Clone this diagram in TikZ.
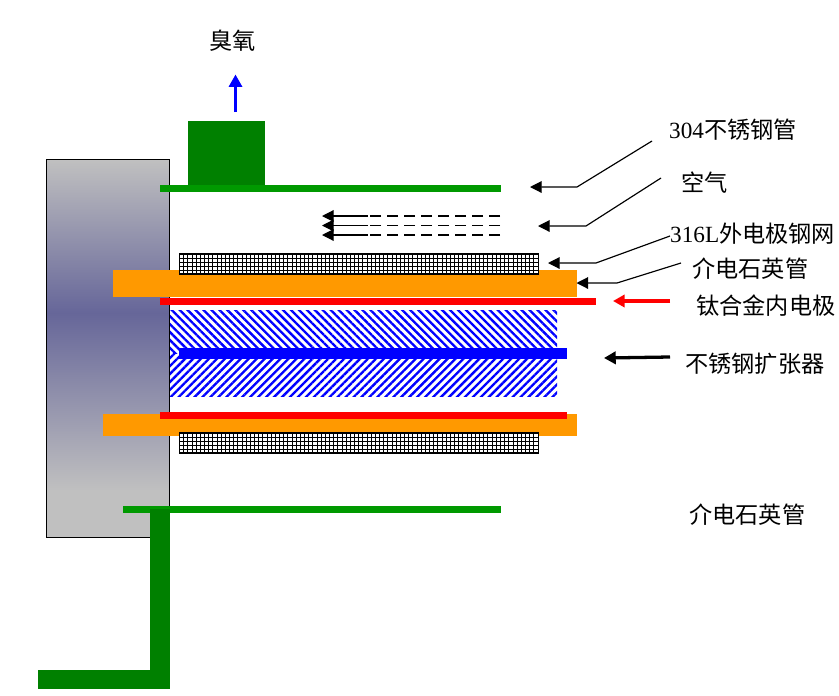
\documentclass[tikz,border=0pt]{standalone}
\usepackage{fontspec}
\setmainfont{Liberation Serif}
\newfontfamily\cjk{Noto Sans CJK SC}
\usetikzlibrary{arrows.meta,patterns.meta}
\definecolor{pipegreen}{HTML}{009900}
\definecolor{portgreen}{HTML}{008000}
\definecolor{quartz}{HTML}{FF9900}
\definecolor{blockgrey}{HTML}{C0C0C0}
\definecolor{blockdark}{HTML}{666699}
\tikzset{
    lbl/.style={anchor=west,inner sep=0pt,font=\fontsize{19.8}{20}\selectfont},
    leader/.style={black,line width=1pt,-{Triangle[length=10pt,width=10pt]}},
    flow/.style={line width=2.8pt,-{Triangle[length=10pt,width=10.5pt]}},
    airline/.style={black,line width=1pt},
}
\begin{document}
\begin{tikzpicture}[x=0.03cm,y=-0.03cm]
    \useasboundingbox (0,0) rectangle (839,695);
    % End block
    \fill[top color=blockgrey,bottom color=blockdark] (46.5,159.5) rectangle (169.5,313);
    \fill[top color=blockdark,bottom color=blockgrey] (46.5,313) rectangle (169.5,490);
    \fill[blockgrey] (46.5,490) rectangle (169.5,537.5);
    \draw[black,line width=0.9pt] (46.5,159.5) rectangle (169.5,537.5);
    % Ozone outlet and outer pipe
    \fill[portgreen] (188,121) rectangle (265,187);
    \fill[pipegreen] (159.5,184.5) rectangle (500.5,191.5);
    \fill[pipegreen] (122.5,506) rectangle (500.5,513);
    % Air inlet
    \fill[portgreen] (150,509) rectangle (170,689);
    \fill[portgreen] (37.5,670) rectangle (170,689);
    % Hatched core
    \fill[white] (170,310) rectangle (557,396);
    \fill[pattern={Lines[angle=-45,distance=4.8pt,line width=2pt]},pattern color=blue] (170,310) rectangle (557,353);
    \fill[pattern={Lines[angle=45,distance=4.8pt,line width=2pt]},pattern color=blue] (170,353) rectangle (557,396);
    \fill[blue] (179,348) rectangle (567,359);
    % Quartz tubes
    \fill[quartz] (113,270) rectangle (576.5,297);
    \fill[quartz] (103,414) rectangle (576.5,436);
    % Inner electrodes
    \fill[red] (160,297.5) rectangle (595.5,305);
    \fill[red] (160,411.5) rectangle (566.5,418.5);
    % Electrode mesh
    \foreach \meshy in {254,433} {
        \fill[white] (179,\meshy) rectangle (538.5,\meshy+20);
        \begin{scope}[shift={(179.5,\meshy)}]
            \draw[black,line width=0.6pt,xstep=0.125cm,ystep=0.125cm] (0,0) grid (359,20);
            \draw[black,line width=1.1pt] (0,0) rectangle (359,20);
        \end{scope}
    }
    % Air stream
    \foreach \airy/\airname in {216/aira,225.5/airb,235/airc} {
        \coordinate (\airname tail) at (368,\airy);
        \coordinate (\airname end) at (500,\airy);
        \coordinate (\airname tip) at (322,\airy);
        \draw[airline,dash pattern=on 9.5pt off 5pt] (\airname end) -- (\airname tail);
        \draw[leader] (\airname tail) -- (\airname tip);
    }
    % Labels
    \node[lbl] (ozone) at (209,41) {\cjk 臭氧};
    \node[lbl] (steelpipe) at (669,130) {304\cjk 不锈钢管};
    \node[lbl] (air) at (681,183) {\cjk 空气};
    \node[lbl] (mesh) at (670,234) {316L\cjk 外电极钢网};
    \node[lbl] (quartzup) at (692,269) {\cjk 介电石英管};
    \node[lbl] (inner) at (696,306) {\cjk 钛合金内电极};
    \node[lbl] (expander) at (685,364) {\cjk 不锈钢扩张器};
    \node[lbl] (quartzlow) at (689,515) {\cjk 介电石英管};
    % Leaders
    \coordinate (pipefree) at (652,141);
    \coordinate (pipeknee) at (577,187);
    \coordinate (pipetip) at (530,187);
    \coordinate (airfree) at (661,178);
    \coordinate (airknee) at (586,226);
    \coordinate (airtip) at (538,226);
    \coordinate (meshfree) at (670,236);
    \coordinate (meshknee) at (596,263);
    \coordinate (meshtip) at (548,263);
    \coordinate (quartzfree) at (681,263);
    \coordinate (quartzknee) at (617,283);
    \coordinate (quartztip) at (576.5,283);
    \draw[leader] (pipefree) -- (pipeknee) -- (pipetip);
    \draw[leader] (airfree) -- (airknee) -- (airtip);
    \draw[leader] (meshfree) -- (meshknee) -- (meshtip);
    \draw[leader] (quartzfree) -- (quartzknee) -- (quartztip);
    % Thick arrows
    \coordinate (innerfree) at (670,301);
    \coordinate (innertip) at (613,301);
    \coordinate (expfree) at (670,357);
    \coordinate (exptip) at (604,358);
    \coordinate (ozonefree) at (235.5,112);
    \coordinate (ozonetip) at (235.5,74.5);
    \draw[flow,red] (innerfree) -- (innertip);
    \draw[flow,black] (expfree) -- (exptip);
    \draw[blue,line width=3.4pt,-{Triangle[length=10.5pt,width=11pt]}] (ozonefree) -- (ozonetip);
\end{tikzpicture}
\end{document}
